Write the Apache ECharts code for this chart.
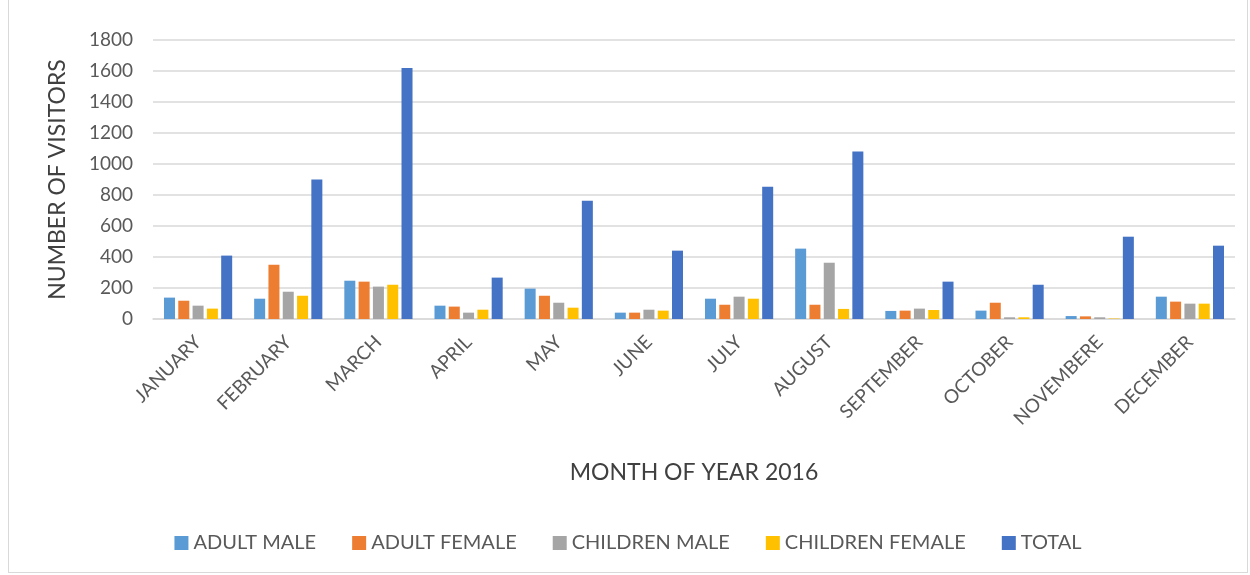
<!DOCTYPE html>
<html>
<head>
<meta charset="utf-8">
<script src="https://cdn.jsdelivr.net/npm/echarts@6/dist/echarts.min.js"></script>
<style>
  html, body { margin: 0; padding: 0; background: #fff; }
  #main { position: absolute; left: 8px; top: 0; width: 1240px; height: 573px; border: 1px solid #d9d9d9; border-top: none; box-sizing: border-box; }
</style>
</head>
<body>
<div id="main"></div>
<script>
const months = ['JANUARY', 'FEBRUARY', 'MARCH', 'APRIL', 'MAY', 'JUNE', 'JULY', 'AUGUST', 'SEPTEMBER', 'OCTOBER', 'NOVEMBERE', 'DECEMBER'];
const adultMale = [138, 131, 247, 86, 196, 41, 131, 454, 52, 54, 19, 144];
const adultFemale = [118, 350, 241, 80, 150, 41, 92, 92, 54, 105, 17, 112];
const childrenMale = [86, 176, 209, 41, 105, 60, 144, 363, 67, 11, 11, 99];
const childrenFemale = [67, 150, 221, 60, 73, 54, 131, 65, 58, 11, 3, 99];
const total = [409, 900, 1620, 267, 763, 441, 854, 1080, 241, 221, 531, 473];

const chart = echarts.init(document.getElementById('main'));
const font = 'Lato, "Open Sans", sans-serif';

function bar(name, data, color) {
  return { name: name, type: 'bar', data: data, barWidth: 11, barGap: '30%', itemStyle: { color: color } };
}

const option = {
  textStyle: { fontFamily: font },
  animation: false,
  grid: { left: 144, right: 12, top: 40, bottom: 253, containLabel: false },
  legend: {
    bottom: 14, left: 'center', itemWidth: 14, itemHeight: 14, itemGap: 36,
    icon: 'rect',
    textStyle: { fontSize: 20, color: '#595959', fontFamily: font }
  },
  xAxis: {
    type: 'category', data: months,
    name: 'MONTH OF YEAR 2016', nameLocation: 'middle', nameGap: 142,
    nameTextStyle: { fontSize: 23, color: '#404040', fontFamily: font },
    axisLine: { lineStyle: { color: '#d9d9d9', width: 1.5 } },
    axisTick: { show: false },
    axisLabel: { rotate: 45, fontSize: 19, color: '#595959', margin: 20, interval: 0 }
  },
  yAxis: {
    type: 'value', min: 0, max: 1800, interval: 200,
    name: 'NUMBER OF VISITORS', nameLocation: 'middle', nameGap: 84, nameRotate: 90,
    nameTextStyle: { fontSize: 23, color: '#404040', fontFamily: font },
    axisLine: { show: false }, axisTick: { show: false },
    axisLabel: { fontSize: 19, color: '#595959', margin: 20, formatter: function (v) { return String(v); } },
    splitLine: { lineStyle: { color: '#d9d9d9', width: 1.5 } }
  },
  series: [
    bar('ADULT MALE', adultMale, '#5b9bd5'),
    bar('ADULT FEMALE', adultFemale, '#ed7d31'),
    bar('CHILDREN MALE', childrenMale, '#a5a5a5'),
    bar('CHILDREN FEMALE', childrenFemale, '#ffc000'),
    bar('TOTAL', total, '#4472c4')
  ]
};

option && chart.setOption(option);
</script>
</body>
</html>
